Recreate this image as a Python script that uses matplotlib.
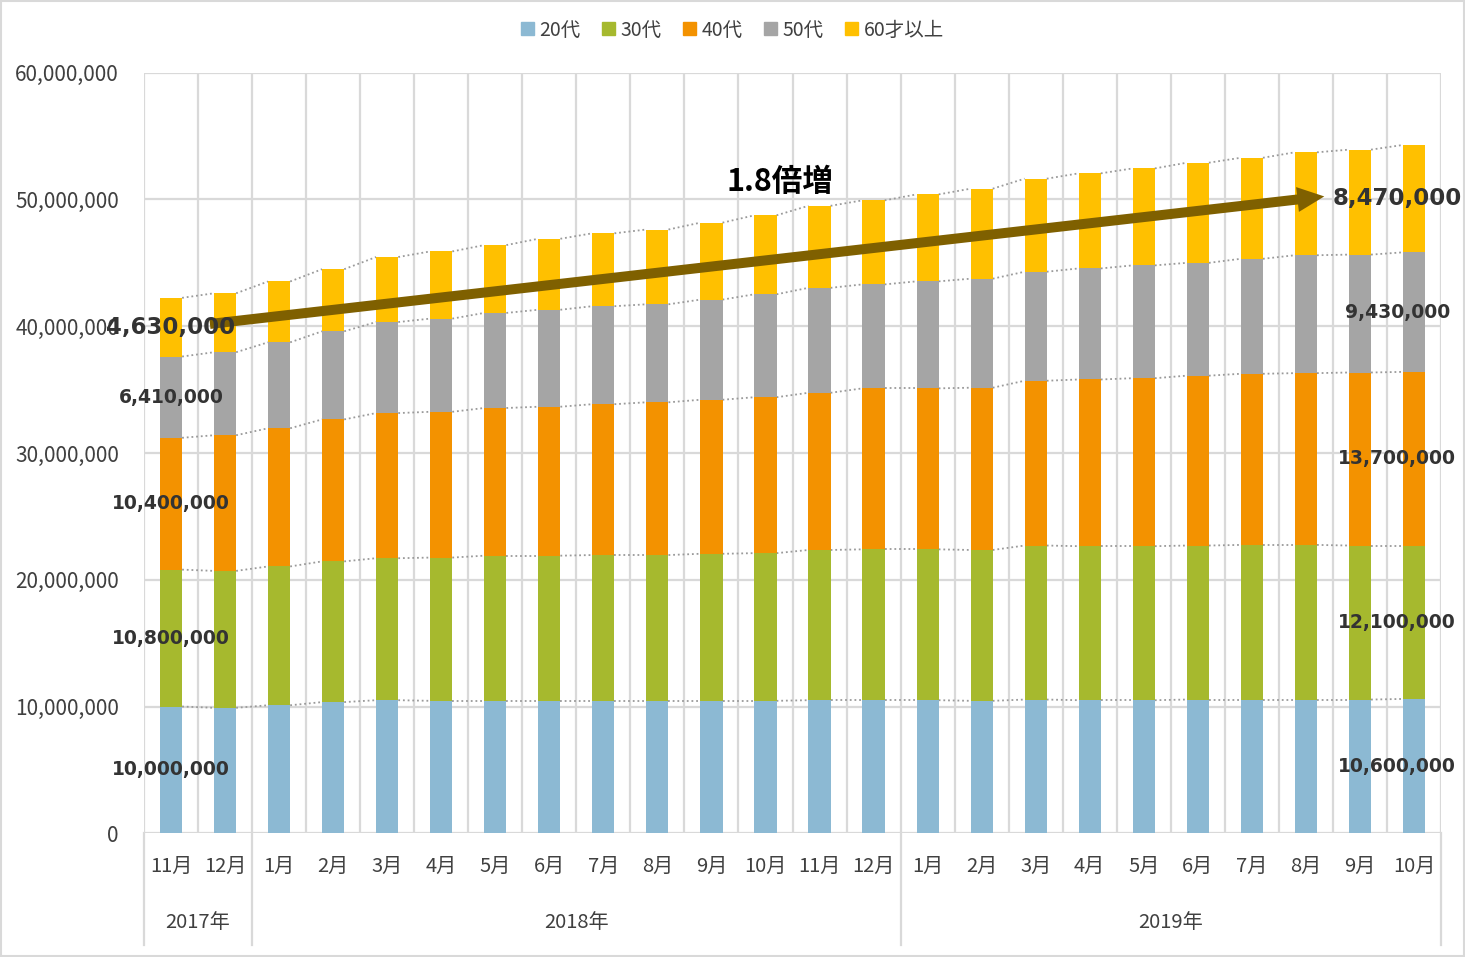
import matplotlib
matplotlib.use('Agg')
import matplotlib.pyplot as plt
import numpy as np
from matplotlib.patches import Rectangle, FancyArrowPatch
from matplotlib.ticker import FuncFormatter, FixedLocator
import matplotlib.transforms as mtransforms

months = ['11月', '12月', '1月', '2月', '3月', '4月', '5月', '6月', '7月', '8月', '9月', '10月',
          '11月', '12月', '1月', '2月', '3月', '4月', '5月', '6月', '7月', '8月', '9月', '10月']
years = ['2017年', '2018年', '2019年']
year_spans = [(0, 1), (2, 13), (14, 23)]
series_names = ['20代', '30代', '40代', '50代', '60才以上']

age20 = [10000000, 9900000, 10100000, 10350000, 10500000, 10450000, 10450000, 10450000,
         10450000, 10450000, 10450000, 10450000, 10500000, 10500000, 10500000, 10450000,
         10550000, 10500000, 10500000, 10550000, 10550000, 10550000, 10550000, 10600000]
age30 = [10800000, 10800000, 10950000, 11100000, 11200000, 11300000, 11450000, 11450000,
         11500000, 11500000, 11600000, 11650000, 11850000, 11900000, 11900000, 11900000,
         12150000, 12150000, 12150000, 12150000, 12200000, 12200000, 12150000, 12100000]
age40 = [10400000, 10700000, 10900000, 11200000, 11450000, 11500000, 11650000, 11750000,
         11900000, 12050000, 12150000, 12300000, 12400000, 12700000, 12700000, 12800000,
         13000000, 13150000, 13250000, 13400000, 13500000, 13550000, 13650000, 13700000]
age50 = [6410000, 6550000, 6780000, 6950000, 7180000, 7350000, 7500000, 7650000,
         7730000, 7730000, 7900000, 8120000, 8280000, 8200000, 8440000, 8600000,
         8600000, 8760000, 8900000, 8900000, 9070000, 9300000, 9300000, 9430000]
age60 = [4630000, 4650000, 4800000, 4900000, 5130000, 5300000, 5350000, 5600000,
         5750000, 5900000, 6070000, 6230000, 6470000, 6630000, 6860000, 7100000,
         7340000, 7500000, 7650000, 7900000, 7970000, 8120000, 8280000, 8470000]

annotation_text = '1.8倍増'

colors = ['#8CB9D3', '#A6B92E', '#F39200', '#A5A5A5', '#FFC000']
txt_color = '#404040'

plt.rcParams['font.family'] = ['Noto Sans CJK JP', 'DejaVu Sans']

W, H = 1465, 957
fig = plt.figure(figsize=(W / 100, H / 100), dpi=100)
L, R, T, B = 144, 1441, 72.7, 833.3
ax = fig.add_axes([L / W, 1 - B / H, (R - L) / W, (B - T) / H])

x = np.arange(len(months))
w = 0.41
bottom = np.zeros(len(months))
data = [age20, age30, age40, age50, age60]
tops = []
for vals, c, name in zip(data, colors, series_names):
    vals = np.array(vals, float)
    ax.bar(x, vals, w, bottom=bottom, color=c, label=name, zorder=3)
    bottom = bottom + vals
    tops.append(bottom.copy())

# series lines
for t in tops:
    for i in range(len(x) - 1):
        ax.plot([x[i] + w / 2, x[i + 1] - w / 2], [t[i], t[i + 1]], color='#9A9A9A',
                lw=1.3, ls=(0, (1, 1.6)), zorder=2)

ax.set_xlim(-0.5, len(x) - 0.5)
ax.set_ylim(0, 60000000)
ax.yaxis.set_major_locator(FixedLocator(np.arange(0, 60000001, 10000000)))
ax.yaxis.set_major_formatter(FuncFormatter(lambda v, p: f'{int(v):,}'))
ax.set_xticks(x)
ax.set_xticklabels(months)
ax.set_xticks(np.arange(-0.5, len(x)), minor=True)
ax.grid(axis='y', which='major', color='#D9D9D9', lw=1.6, zorder=0)
ax.grid(axis='x', which='minor', color='#D9D9D9', lw=1.6, zorder=0)
ax.grid(axis='x', which='major', visible=False)
ax.set_axisbelow(True)
for s in ax.spines.values():
    s.set_visible(False)
ax.tick_params(axis='both', which='both', length=0)
ax.tick_params(axis='y', labelsize=15, labelcolor=txt_color, pad=18)
ax.tick_params(axis='x', labelsize=14.5, labelcolor=txt_color, pad=16)

# year labels and separators
trans = mtransforms.blended_transform_factory(ax.transData, ax.transAxes)
y_year = (B - 923) / (B - T)
y_sep = (B - 945) / (B - T)
for yl, (a, b) in zip(years, year_spans):
    ax.text((a + b) / 2, y_year, yl, transform=trans, ha='center', va='center',
            fontsize=14.5, color=txt_color)
seps = [-0.5] + [b + 0.5 for (a, b) in year_spans]
for sx in seps:
    ax.plot([sx, sx], [0, y_sep], transform=trans, color='#D9D9D9', lw=1.6, clip_on=False)

# data labels for first and last bar
for k, (vals, t) in enumerate(zip(data, tops)):
    big = (k == len(data) - 1)
    fs = 16.5 if big else 13.5
    for idx, xo in [(0, 0.0), (len(x) - 1, -0.31)]:
        mid = t[idx] - vals[idx] / 2
        ax.text(x[idx] + xo, mid, f'{vals[idx]:,}', ha='center', va='center',
                fontsize=fs, fontweight='bold', family='DejaVu Sans', color='#333333',
                zorder=7, clip_on=False)

# trend arrow
arrow = FancyArrowPatch((0.72, 40.18e6), (21.34, 50.24e6),
                        arrowstyle='simple,head_length=0.97,head_width=0.9,tail_width=0.36',
                        mutation_scale=20, color='#7F6000', lw=0, zorder=5,
                        shrinkA=0, shrinkB=0)
ax.add_patch(arrow)
ax.text(11.26, 51.4e6, annotation_text, ha='center', va='center', fontsize=22,
        fontweight='bold', color='black', zorder=7)

# legend
handles = [Rectangle((0, 0), 1, 1, color=c) for c in colors]
fig.legend(handles, series_names, loc='center', bbox_to_anchor=(0.5, 1 - 30 / H),
           ncol=5, frameon=False, fontsize=14, handlelength=0.65, handleheight=0.65,
           handletextpad=0.3, columnspacing=1.1, labelcolor=txt_color)

fig.patches.append(Rectangle((0.001, 0.001), 0.998, 0.998, transform=fig.transFigure,
                             fill=False, edgecolor='#D9D9D9', lw=1.5))

fig.savefig('out.png', dpi=100)
